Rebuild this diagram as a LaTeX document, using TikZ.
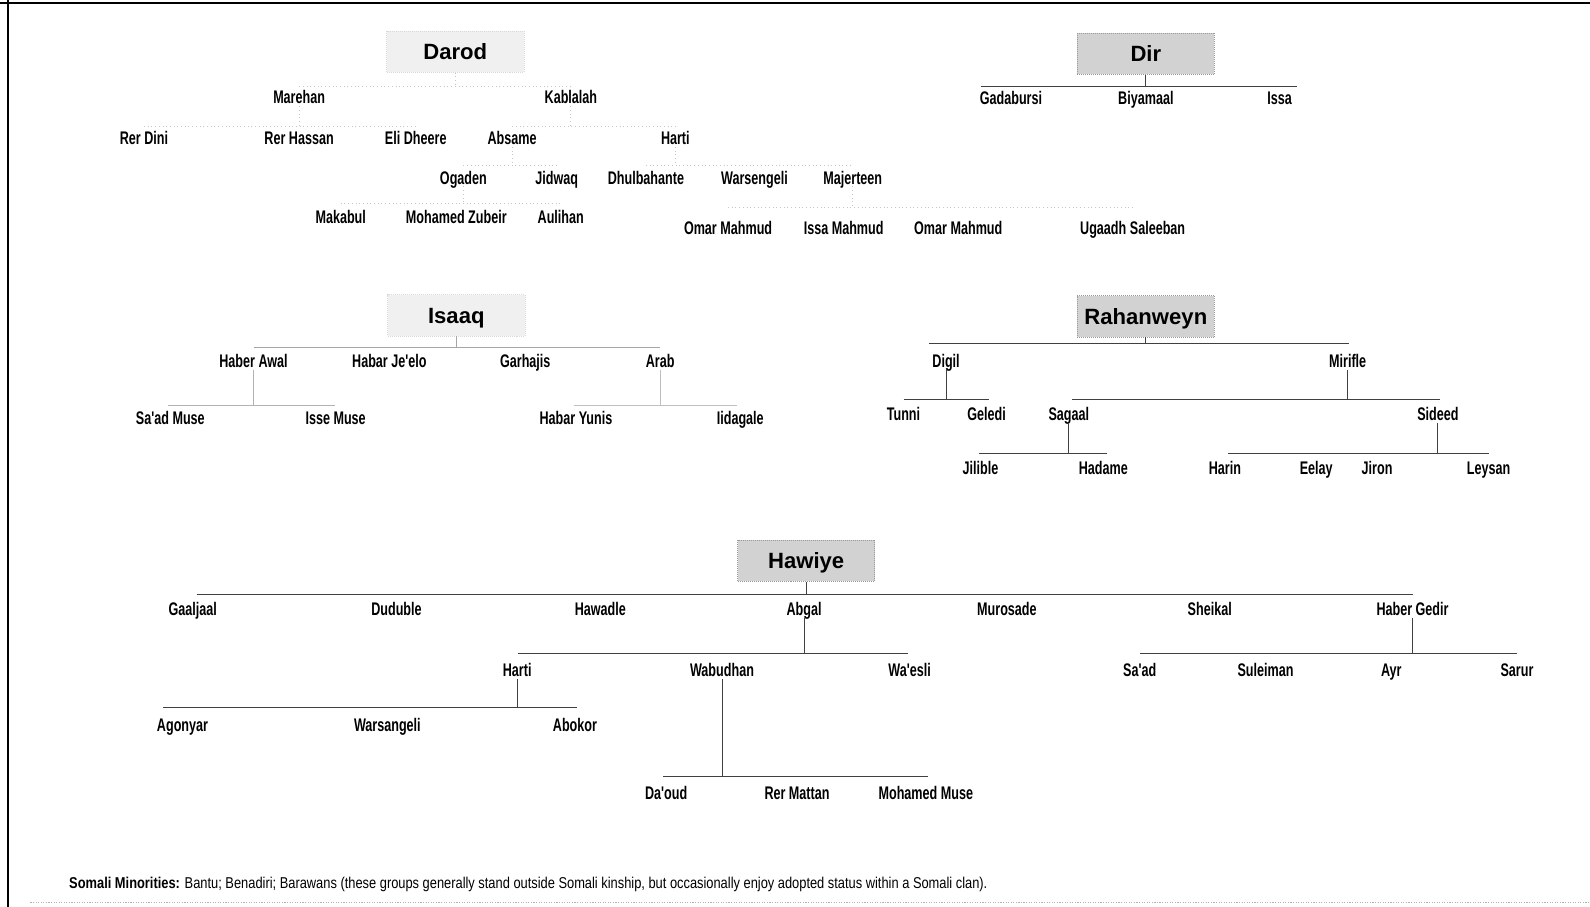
\documentclass[tikz,border=0pt]{standalone}
\usepackage{fontspec}
\setmainfont{Liberation Sans}
\newfontfamily\clanfont{Liberation Sans Bold}[FakeStretch=0.69]
\newfontfamily\notefont{Liberation Sans}[FakeStretch=0.82]
\usetikzlibrary{calc}

\begin{document}
\begin{tikzpicture}[x=0.25mm, y=-0.25mm,
    clan/.style={font=\clanfont\fontsize{12.8}{14}\selectfont, inner sep=1.5pt, text height=9.2pt, text depth=0pt},
    root/.style={font=\bfseries\fontsize{15.5}{17}\selectfont, minimum width=33.8mm, minimum height=10.2mm,
        inner sep=0pt, text height=11.2pt, text depth=0pt, fill=gray!35, draw=gray!80, densely dotted},
    faintroot/.style={root, fill=gray!12, draw=gray!30},
    link/.style={black!75, line width=0.6pt},
    faintlink/.style={gray!45, dotted, line width=0.6pt}]
\useasboundingbox (0,0) rectangle (1568,894);
\draw[line width=1.2pt] (8,0) -- (8,894);
\draw[line width=2pt] (0,3) -- (1568,3);
\draw[gray!60, densely dotted, line width=0.8pt] (30,890) -- (1568,890);

% Darod
\node[faintroot] (darod) at (449,51) {Darod};
\node[clan] (marehan) at (295,96) {Marehan};
\node[clan] (kablalah) at (563,96) {Kablalah};
\node[clan] (rerdini) at (142,136) {Rer Dini};
\node[clan] (rerhassan) at (295,136) {Rer Hassan};
\node[clan] (elidheere) at (410,136) {Eli Dheere};
\node[clan] (absame) at (505,136) {Absame};
\node[clan] (hartid) at (666,136) {Harti};
\node[clan] (ogaden) at (457,175) {Ogaden};
\node[clan] (jidwaq) at (549,175) {Jidwaq};
\node[clan] (dhulbahante) at (637,175) {Dhulbahante};
\node[clan] (warsengelid) at (744,175) {Warsengeli};
\node[clan] (majerteen) at (841,175) {Majerteen};
\node[clan] (makabul) at (336,214) {Makabul};
\node[clan] (mzubeir) at (450,214) {Mohamed Zubeir};
\node[clan] (aulihan) at (553,214) {Aulihan};
\node[clan] (omarmahmuda) at (718,225) {Omar Mahmud};
\node[clan] (issamahmud) at (832,225) {Issa Mahmud};
\node[clan] (omarmahmudb) at (945,225) {Omar Mahmud};
\node[clan] (ugaadh) at (1117,225) {Ugaadh Saleeban};

\coordinate (drL) at (295,85); \coordinate (drR) at (563,85);
\coordinate (mrL) at (142,125); \coordinate (mrR) at (410,125);
\coordinate (kbL) at (505,125); \coordinate (kbR) at (666,125);
\coordinate (abL) at (457,163); \coordinate (abR) at (549,163);
\coordinate (htL) at (637,163); \coordinate (htR) at (841,163);
\coordinate (ogL) at (336,201); \coordinate (ogR) at (553,201);
\coordinate (mjL) at (718,205); \coordinate (mjR) at (1117,205);
\draw[faintlink] (darod.south) -- (darod.south |- drL) (drL) -- (drR);
\draw[faintlink] (marehan.south) -- (marehan.south |- mrL) (mrL) -- (mrR);
\draw[faintlink] (kablalah.south) -- (kablalah.south |- kbL) (kbL) -- (kbR);
\draw[faintlink] (absame.south) -- (absame.south |- abL) (abL) -- (abR);
\draw[faintlink] (hartid.south) -- (hartid.south |- htL) (htL) -- (htR);
\draw[faintlink] (ogaden.south) -- (ogaden.south |- ogL) (ogL) -- (ogR);
\draw[faintlink] (majerteen.south) -- (majerteen.south |- mjL) (mjL) -- (mjR);

% Dir
\node[root] (dir) at (1130,53) {Dir};
\node[clan] (gadabursi) at (997,97) {Gadabursi};
\node[clan] (biyamaal) at (1130,97) {Biyamaal};
\node[clan] (issa) at (1262,97) {Issa};
\coordinate (dirL) at (967,85); \coordinate (dirR) at (1279,85);
\draw[link] (dir.south) -- (dir.south |- dirL) (dirL) -- (dirR);

% Isaaq
\node[faintroot] (isaaq) at (450,311) {Isaaq};
\node[clan] (haberawal) at (250,356) {Haber Awal};
\node[clan] (habarjeelo) at (384,356) {Habar Je'elo};
\node[clan] (garhajis) at (518,356) {Garhajis};
\node[clan] (arab) at (651,356) {Arab};
\node[clan] (saadmuse) at (168,412) {Sa'ad Muse};
\node[clan] (issemuse) at (331,412) {Isse Muse};
\node[clan] (habaryunis) at (568,412) {Habar Yunis};
\node[clan] (iidagale) at (730,412) {Iidagale};
\coordinate (isL) at (250,343); \coordinate (isR) at (651,343);
\coordinate (haL) at (166,400); \coordinate (haR) at (330,400);
\coordinate (arL) at (566,400); \coordinate (arR) at (727,400);
\draw[link, gray!70] (isaaq.south) -- (isaaq.south |- isL) (isL) -- (isR);
\draw[link, gray!60] (haberawal.south) -- (haberawal.south |- haL) (haL) -- (haR);
\draw[link, gray!50] (arab.south) -- (arab.south |- arL) (arL) -- (arR);

% Rahanweyn
\node[root] (rahanweyn) at (1130,312) {Rahanweyn};
\node[clan] (digil) at (933,356) {Digil};
\node[clan] (mirifle) at (1329,356) {Mirifle};
\node[clan] (tunni) at (891,408) {Tunni};
\node[clan] (geledi) at (973,408) {Geledi};
\node[clan] (sagaal) at (1054,408) {Sagaal};
\node[clan] (sideed) at (1418,408) {Sideed};
\node[clan] (jilible) at (967,461) {Jilible};
\node[clan] (hadame) at (1088,461) {Hadame};
\node[clan] (harin) at (1208,461) {Harin};
\node[clan] (eelay) at (1298,461) {Eelay};
\node[clan] (jiron) at (1358,461) {Jiron};
\node[clan] (leysan) at (1468,461) {Leysan};
\coordinate (rhL) at (916,339); \coordinate (rhR) at (1330,339);
\coordinate (dgL) at (891,394); \coordinate (dgR) at (975,394);
\coordinate (mfL) at (1057,394); \coordinate (mfR) at (1420,394);
\coordinate (sgL) at (965,447); \coordinate (sgR) at (1092,447);
\coordinate (sdL) at (1211,447); \coordinate (sdR) at (1468,447);
\draw[link] (rahanweyn.south) -- (rahanweyn.south |- rhL) (rhL) -- (rhR);
\draw[link] (digil.south) -- (digil.south |- dgL) (dgL) -- (dgR);
\draw[link] (mirifle.south) -- (mirifle.south |- mfL) (mfL) -- (mfR);
\draw[link] (sagaal.south) -- (sagaal.south |- sgL) (sgL) -- (sgR);
\draw[link] (sideed.south) -- (sideed.south |- sdL) (sdL) -- (sdR);

% Hawiye
\node[root] (hawiye) at (795,553) {Hawiye};
\node[clan] (gaaljaal) at (190,601) {Gaaljaal};
\node[clan] (duduble) at (391,601) {Duduble};
\node[clan] (hawadle) at (592,601) {Hawadle};
\node[clan] (abgal) at (793,601) {Abgal};
\node[clan] (murosade) at (993,601) {Murosade};
\node[clan] (sheikal) at (1193,601) {Sheikal};
\node[clan] (habergedir) at (1393,601) {Haber Gedir};
\node[clan] (hartih) at (510,661) {Harti};
\node[clan] (wabudhan) at (712,661) {Wabudhan};
\node[clan] (waesli) at (897,661) {Wa'esli};
\node[clan] (saad) at (1124,661) {Sa'ad};
\node[clan] (suleiman) at (1248,661) {Suleiman};
\node[clan] (ayr) at (1372,661) {Ayr};
\node[clan] (sarur) at (1496,661) {Sarur};
\node[clan] (agonyar) at (180,715) {Agonyar};
\node[clan] (warsangeli) at (382,715) {Warsangeli};
\node[clan] (abokor) at (567,715) {Abokor};
\node[clan] (daoud) at (657,782) {Da'oud};
\node[clan] (rermattan) at (786,782) {Rer Mattan};
\node[clan] (mohamedmuse) at (913,782) {Mohamed Muse};
\coordinate (hwL) at (194,586); \coordinate (hwR) at (1393,586);
\coordinate (agL) at (511,644); \coordinate (agR) at (895,644);
\coordinate (hhL) at (161,698); \coordinate (hhR) at (569,698);
\coordinate (wbL) at (654,766); \coordinate (wbR) at (915,766);
\coordinate (hgL) at (1124,644); \coordinate (hgR) at (1496,644);
\draw[link] (hawiye.south) -- (hawiye.south |- hwL) (hwL) -- (hwR);
\draw[link] (abgal.south) -- (abgal.south |- agL) (agL) -- (agR);
\draw[link] (hartih.south) -- (hartih.south |- hhL) (hhL) -- (hhR);
\draw[link] (wabudhan.south) -- (wabudhan.south |- wbL) (wbL) -- (wbR);
\draw[link] (habergedir.south) -- (habergedir.south |- hgL) (hgL) -- (hgR);

\node[anchor=west, inner sep=0pt, font=\notefont\fontsize{11}{13}\selectfont] (note) at (68,872)
    {\textbf{Somali Minorities:} Bantu; Benadiri; Barawans (these groups generally stand outside Somali kinship, but occasionally enjoy adopted status within a Somali clan).};
\end{tikzpicture}
\end{document}
